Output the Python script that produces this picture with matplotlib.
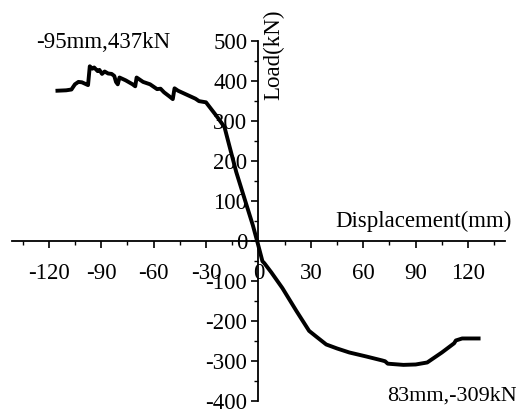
import numpy as np
import matplotlib.pyplot as plt
from matplotlib.ticker import MultipleLocator

plt.rcParams['font.family'] = ['Liberation Serif', 'DejaVu Serif']
plt.rcParams['axes.unicode_minus'] = False

# skeleton curve: displacement (mm), load (kN)
disp = [-115, -110, -107, -105, -103, -101, -99, -97.5, -96.5, -95, -94, -92,
        -91, -89.5, -88, -86, -84, -82.5, -81.5, -80.5, -79.5, -76, -72, -70.5,
        -69.7, -66, -62, -58, -56, -54, -51, -49, -48, -46, -43, -40, -36, -34,
        -30, -27, -24, -19.4, -16.6, -12.7, -8, -3.2, -0.4, 2.3, 3.4, 7.4, 13.7,
        21.7, 29, 33, 38.8, 45, 52, 61.7, 70.9, 72.5, 74, 83, 90, 96.6, 105,
        112, 113, 116.6, 126]
load = [376, 377, 379, 392, 398, 397, 393, 390, 437, 431, 434, 425,
        428, 418, 424, 419, 418, 413, 398, 392, 409, 402, 392, 387,
        409, 398, 392, 380, 381, 372, 362, 355, 382, 376, 370, 364, 356, 350,
        347, 330, 313, 285, 238, 173, 107, 40, -5, -50, -55, -78, -117,
        -174, -224, -238, -258, -268, -278, -288, -298, -300, -306, -309, -308, -303, -278,
        -255, -248, -243, -243]

x_ticks = [-120, -90, -60, -30, 0, 30, 60, 90, 120]
y_ticks = [-400, -300, -200, -100, 0, 100, 200, 300, 400, 500]

fig = plt.figure(figsize=(5.16, 4.15), dpi=100)
ax = fig.add_axes([0.0233, 0.033, 0.955, 0.868])

ax.plot(disp, load, color='black', linewidth=2.8, solid_joinstyle='round')

ax.set_xlim(-141, 141)
ax.set_ylim(-400, 500)

# axes crossing at the origin
ax.spines['left'].set_position(('data', 0))
ax.spines['bottom'].set_position(('data', 0))
ax.spines['top'].set_visible(False)
ax.spines['right'].set_visible(False)
for s in ('left', 'bottom'):
    ax.spines[s].set_linewidth(1.3)

ax.set_xticks(x_ticks)
ax.set_yticks(y_ticks)
ax.xaxis.set_minor_locator(MultipleLocator(15))
ax.yaxis.set_minor_locator(MultipleLocator(50))
ax.tick_params(axis='both', which='major', direction='out', length=5, width=1.2,
               labelsize=16.5)
ax.tick_params(axis='both', which='minor', direction='out', length=3, width=1.0)
ax.tick_params(axis='x', which='major', pad=11)
ax.tick_params(axis='y', which='major', pad=3)

ax.text(-88.6, 496, '-95mm,437kN', fontsize=16.5, ha='center', va='center')
ax.text(110.9, -386, '83mm,-309kN', fontsize=16, ha='center', va='center')
ax.text(145, 50, 'Displacement(mm)', fontsize=16.5, ha='right', va='center',
        clip_on=False)
ax.text(9, 466, 'Load(kN)', fontsize=16.5, rotation=90, ha='center', va='center')

fig.savefig('out.png', dpi=100)
